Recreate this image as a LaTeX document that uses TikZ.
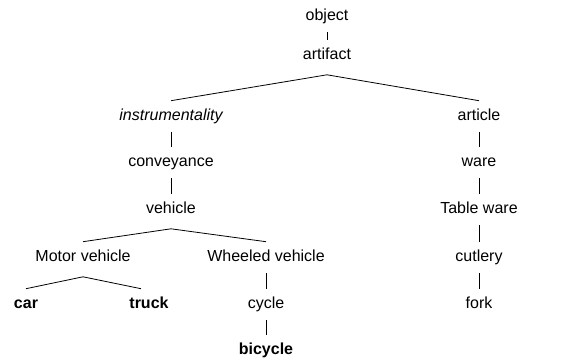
\documentclass[tikz,border=0pt]{standalone}
\usepackage{fontspec}
\setmainfont{Liberation Sans}
\usetikzlibrary{positioning}
\tikzset{
    word/.style={
        inner sep=0pt,
        font=\fontsize{16}{19}\selectfont,
        text height=11.5pt,
        text depth=3.7pt
    },
    link/.style={
        line width=0.8pt,
        shorten <=7.5pt,
        shorten >=8.5pt
    },
    branch/.style={
        line width=0.8pt
    }
}
\begin{document}
\begin{tikzpicture}[x=1pt,y=-1pt]
            \useasboundingbox (0,0) rectangle (585,361);
            % top of the tree
            \node[word] (object) at (327,17) {object};
            \node[word] (artifact) at (327,56) {artifact};
            % left branch
            \node[word] (instr) at (171,117) {\itshape instrumentality};
            \node[word] (conv) at (171,163) {conveyance};
            \node[word] (vehicle) at (171,210) {vehicle};
            \node[word] (motor) at (83,258) {Motor vehicle};
            \node[word] (wheeled) at (266,258) {Wheeled vehicle};
            \node[word] (car) at (26,305) {\bfseries car};
            \node[word] (truck) at (149,305) {\bfseries truck};
            \node[word] (cycle) at (266,305) {cycle};
            \node[word] (bicycle) at (266,351) {\bfseries bicycle};
            % right branch
            \node[word] (article) at (479,117) {article};
            \node[word] (ware) at (479,163) {ware};
            \node[word] (tableware) at (479,210) {Table ware};
            \node[word] (cutlery) at (479,258) {cutlery};
            \node[word] (fork) at (479,305) {fork};
            \foreach \a/\b in {object/artifact,instr/conv,conv/vehicle,wheeled/cycle,cycle/bicycle,article/ware,ware/tableware,tableware/cutlery,cutlery/fork}
              \draw[link] (\a) -- (\b);
            \foreach \a/\b/\s in {artifact/instr/0,artifact/article/0,vehicle/motor/0,vehicle/wheeled/0,motor/car/0,motor/truck/-8}
              \draw[branch] ([yshift=-11pt]\a.south) -- ([yshift=8.5pt,xshift=\s pt]\b.north);
          \end{tikzpicture}
\end{document}
